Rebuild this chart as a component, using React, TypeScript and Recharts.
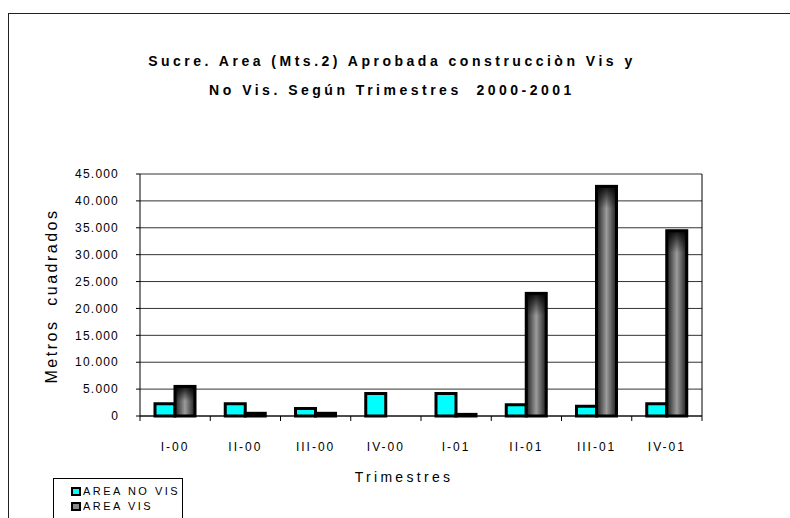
import React from "react";
import { BarChart, Bar, XAxis, YAxis, CartesianGrid } from "recharts";

const categories = ["I-00", "II-00", "III-00", "IV-00", "I-01", "II-01", "III-01", "IV-01"];
const areaNoVis = [2300, 2300, 1400, 4200, 4200, 2100, 1800, 2300];
const areaVis = [5500, 500, 500, 0, 300, 22800, 42700, 34450];
const yTicks = [0, 5000, 10000, 15000, 20000, 25000, 30000, 35000, 40000, 45000];

const data = categories.map((c, i) => ({ name: c, noVis: areaNoVis[i], vis: areaVis[i] }));

const FONT = "'Liberation Sans Narrow', 'Liberation Sans', Arial, sans-serif";
const PLOT_W = 562;

const fmt = (v: number) => (v === 0 ? "0" : v.toLocaleString("de-DE"));

function XTick(props: any) {
  const { x, y, payload, index } = props;
  const half = PLOT_W / categories.length / 2;
  return (
    <g>
      <line x1={x - half} y1={y} x2={x - half} y2={y + 5} stroke="#000" />
      {index === categories.length - 1 && (
        <line x1={x + half} y1={y} x2={x + half} y2={y + 5} stroke="#000" />
      )}
      <text x={x} y={y + 35} textAnchor="middle" fontSize={12} fill="#000"
        style={{ fontFamily: FONT, letterSpacing: 2 }}>
        {payload.value}
      </text>
    </g>
  );
}

function VisBar(props: any) {
  const { x, y, width, height } = props;
  if (!height || height <= 0) return null;
  const shade = Math.min(22, height / 2);
  return (
    <g>
      <rect x={x} y={y} width={width} height={height} fill="url(#visH)" />
      <rect x={x} y={y} width={width} height={shade} fill="url(#visV)" />
      <rect x={x} y={y} width={width} height={height} fill="none" stroke="#000" strokeWidth={3} />
    </g>
  );
}

export default function App() {
  return (
    <div style={{ position: "absolute", left: 0, top: 0, width: 790, height: 518, background: "#fff", overflow: "hidden", fontFamily: FONT }}>
      <div style={{ position: "absolute", left: 8, top: 13, width: 800, height: 520, borderTop: "1px solid #222", borderLeft: "1px solid #222" }} />
      <div style={{ position: "absolute", left: 0, width: 784, top: 47, textAlign: "center", fontWeight: "bold", fontSize: 14, letterSpacing: 3.5, lineHeight: "29px", color: "#000" }}>
        <div>Sucre. Area (Mts.2) Aprobada construcciòn Vis y</div>
        <div style={{ whiteSpace: "pre" }}>No Vis. Según Trimestres  2000-2001</div>
      </div>
      <BarChart width={790} height={518} data={data}
        margin={{ top: 174, right: 87, left: 80, bottom: 62 }}
        barGap={0} barSize={20} style={{ position: "absolute", left: 0, top: 0 }}>
        <defs>
          <linearGradient id="visH" x1="0" y1="0" x2="1" y2="0">
            <stop offset="0" stopColor="#1c1c1c" />
            <stop offset="0.5" stopColor="#9c9c9c" />
            <stop offset="1" stopColor="#1c1c1c" />
          </linearGradient>
          <linearGradient id="visV" x1="0" y1="0" x2="0" y2="1">
            <stop offset="0" stopColor="#000" stopOpacity={0.9} />
            <stop offset="1" stopColor="#000" stopOpacity={0} />
          </linearGradient>
        </defs>
        <CartesianGrid yAxisId="l" vertical={false} stroke="#333" strokeWidth={1} />
        <XAxis dataKey="name" axisLine={{ stroke: "#000" }} tickLine={false}
          tickSize={0} tickMargin={0} height={40} interval={0} tick={<XTick />} />
        <YAxis yAxisId="l" domain={[0, 45000]} ticks={yTicks} width={60}
          axisLine={{ stroke: "#000" }} tickLine={{ stroke: "#000" }} tickSize={4} tickMargin={17}
          tickFormatter={fmt} interval={0}
          tick={{ fontSize: 12, fill: "#000", fontFamily: FONT, letterSpacing: 1.2 } as any} />
        <YAxis yAxisId="r" orientation="right" domain={[0, 45000]} width={1}
          tick={false} tickLine={false} axisLine={{ stroke: "#000", strokeWidth: 1 }} />
        <Bar yAxisId="l" dataKey="noVis" fill="#00ffff" stroke="#000" strokeWidth={3} isAnimationActive={false} />
        <Bar yAxisId="l" dataKey="vis" shape={<VisBar />} isAnimationActive={false} />
      </BarChart>
      <div style={{ position: "absolute", left: 0, width: 808, top: 469, textAlign: "center", fontSize: 14, letterSpacing: 3.3, color: "#000" }}>
        Trimestres
      </div>
      <div style={{ position: "absolute", left: 52, top: 296, width: 0, height: 0 }}>
        <div style={{ position: "absolute", transform: "translate(-50%, -50%) rotate(-90deg)", whiteSpace: "pre", fontFamily: "'Liberation Sans', Arial, sans-serif", fontSize: 16, letterSpacing: 2.5, color: "#000" }}>
          Metros  cuadrados
        </div>
      </div>
      <div style={{ position: "absolute", left: 53, top: 478, width: 130, height: 42, border: "1px solid #000", boxSizing: "border-box", fontSize: 11, letterSpacing: 2.5, color: "#000", paddingLeft: 17, paddingTop: 5, lineHeight: "15px" }}>
        <div style={{ display: "flex", alignItems: "center" }}>
          <span style={{ display: "inline-block", width: 6, height: 5, background: "#00ffff", border: "2px solid #000", marginRight: 2 }} />
          AREA NO VIS
        </div>
        <div style={{ display: "flex", alignItems: "center" }}>
          <span style={{ display: "inline-block", width: 6, height: 5, background: "#888", border: "2px solid #000", marginRight: 2 }} />
          AREA VIS
        </div>
      </div>
    </div>
  );
}
